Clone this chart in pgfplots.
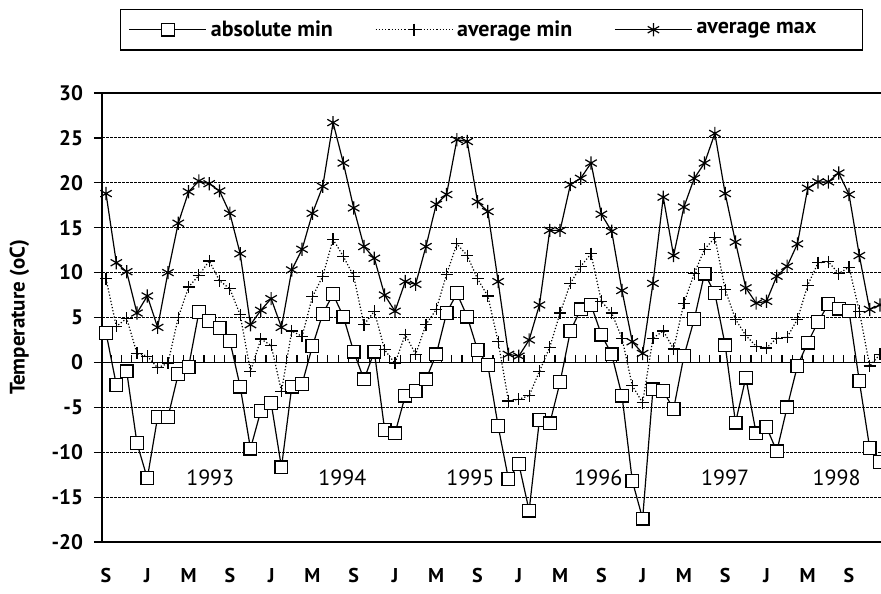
\documentclass[border=0pt]{standalone}
\usepackage{pgfplots}
\pgfplotsset{compat=1.18}
\usepackage{pgfplotstable}
\usepackage{fontspec}
\setmainfont{PT Sans}

\pgfplotstableread{
i amin avmin avmax
0 3.3 9.3 18.8
1 -2.5 4.0 11.1
2 -1.0 4.9 10.1
3 -9.0 1.0 5.5
4 -12.9 0.7 7.4
5 -6.1 -0.6 3.9
6 -6.1 -0.1 10.0
7 -1.3 5.0 15.5
8 -0.5 8.4 19.0
9 5.6 9.7 20.2
10 4.6 11.3 19.9
11 3.8 9.1 19.1
12 2.4 8.2 16.6
13 -2.7 5.3 12.1
14 -9.6 -1.0 4.2
15 -5.4 2.6 5.8
16 -4.5 1.9 7.1
17 -11.7 -3.2 3.9
18 -2.7 3.5 10.3
19 -2.4 2.9 12.6
20 1.8 7.3 16.6
21 5.4 9.6 19.6
22 7.6 13.7 26.7
23 5.1 11.8 22.2
24 1.2 9.6 17.2
25 -1.9 4.2 12.9
26 1.2 5.7 11.6
27 -7.5 1.4 7.5
28 -7.9 -0.1 5.7
29 -3.7 3.1 9.0
30 -3.2 0.9 8.7
31 -1.9 4.2 12.9
32 0.9 5.9 17.6
33 5.5 9.8 18.7
34 7.7 13.2 24.8
35 5.1 11.9 24.6
36 1.4 9.3 17.9
37 -0.3 7.4 16.8
38 -7.1 2.3 9.0
39 -13.0 -4.3 0.9
40 -11.3 -4.1 0.7
41 -16.5 -3.7 2.5
42 -6.4 -1.0 6.4
43 -6.8 1.7 14.7
44 -2.2 5.5 14.7
45 3.5 8.8 19.8
46 5.9 10.7 20.5
47 6.4 12.1 22.2
48 3.1 6.8 16.5
49 0.9 5.5 14.6
50 -3.7 2.7 8.0
51 -13.2 -2.6 2.3
52 -17.4 -4.5 1.0
53 -3.0 2.7 8.8
54 -3.2 3.5 18.4
55 -5.2 1.5 11.9
56 0.7 6.6 17.3
57 4.8 9.9 20.5
58 9.9 12.6 22.2
59 7.7 13.9 25.5
60 1.9 8.1 18.8
61 -6.7 4.8 13.4
62 -1.7 3.0 8.3
63 -7.9 1.8 6.6
64 -7.2 1.6 6.8
65 -9.9 2.7 9.6
66 -5.0 2.8 10.7
67 -0.4 4.8 13.2
68 2.2 8.6 19.4
69 4.5 11.1 20.1
70 6.5 11.2 20.1
71 6.0 9.9 21.1
72 5.7 10.6 18.7
73 -2.1 5.7 11.9
74 -9.5 -0.4 5.9
75 -11.1 0.9 6.4
}\temps

\begin{document}
\begin{tikzpicture}
\begin{axis}[
  at={(51pt,25.5pt)}, anchor=south west,
  scale only axis, width=389.5pt, height=224.5pt,
  xmin=-0.39, xmax=75.1, ymin=-20, ymax=30,
  clip=false,
  axis x line*=middle, axis y line*=left,
  axis line style={line width=0.6pt, black},
  ytick={-20,-15,...,30},
  yticklabels={-20,-15,-10,-5,0,5,10,15,20,25,30},
  ymajorgrids,
  grid style={dash pattern=on 1.3pt off 0.7pt, line width=0.5pt, black},
  tick align=center, major tick length=4pt,
  tick style={line width=0.6pt, black},
  ytick style={xshift=-2pt},
  xtick={0,4,...,72},
  xticklabels={S,J,M,S,J,M,S,J,M,S,J,M,S,J,M,S,J,M,S},
  xtick style={draw=none},
  xticklabel style={anchor=center, yshift=-104.5pt, font=\fontsize{10}{12}\selectfont\bfseries},
  yticklabel style={font=\fontsize{10.5}{12}\selectfont\bfseries, anchor=east, xshift=-4pt},
  legend columns=3,
  legend style={at={(0.5,1.141)}, anchor=center, draw=black, line width=0.6pt,
     font=\fontsize{11}{12}\selectfont\bfseries,
     inner xsep=4pt, inner ysep=3.5pt,
     /tikz/every even column/.append style={column sep=19pt}},
  legend image code/.code={\draw[mark repeat=2,mark phase=2,#1] plot coordinates {(0pt,0pt) (19.25pt,0pt) (38.5pt,0pt)};},
]
\addplot[black, line width=0.6pt, mark=square*, mark size=3.2pt, mark options={fill=white, solid}] table[x=i,y=amin]{\temps};
\addlegendentry{absolute min}
\addplot[black, line width=0.6pt, densely dotted, mark=+, mark size=3pt, mark options={solid}] table[x=i,y=avmin]{\temps};
\addlegendentry{average min}
\addplot[black, line width=0.6pt, mark=asterisk, mark size=3.3pt, mark options={solid}] table[x=i,y=avmax]{\temps};
\addlegendentry{average max\hspace*{17pt}}
\pgfplotsinvokeforeach{0.5,1.5,...,74.5}{\draw[line width=0.6pt] (axis cs:#1,0) -- (axis cs:#1,0.8);}
\draw[line width=0.6pt] (rel axis cs:0,1) -- (rel axis cs:1,1);
\draw[line width=0.6pt] (rel axis cs:0,0) -- (rel axis cs:1,0);
\node[font=\fontsize{11}{13}\selectfont] at (axis cs:10.1,-12.8) {1993};
\node[font=\fontsize{11}{13}\selectfont] at (axis cs:22.9,-12.8) {1994};
\node[font=\fontsize{11}{13}\selectfont] at (axis cs:35.3,-12.8) {1995};
\node[font=\fontsize{11}{13}\selectfont] at (axis cs:47.7,-12.8) {1996};
\node[font=\fontsize{11}{13}\selectfont] at (axis cs:60.0,-12.8) {1997};
\node[font=\fontsize{11}{13}\selectfont] at (axis cs:70.8,-12.8) {1998};
\end{axis}
\node[rotate=90, font=\fontsize{10.5}{12}\selectfont\bfseries] at (9.75pt,137.75pt) {Temperature (oC)};
\pgfresetboundingbox
\path[use as bounding box] (0,0) rectangle (440.5pt,296.5pt);
\end{tikzpicture}
\end{document}
